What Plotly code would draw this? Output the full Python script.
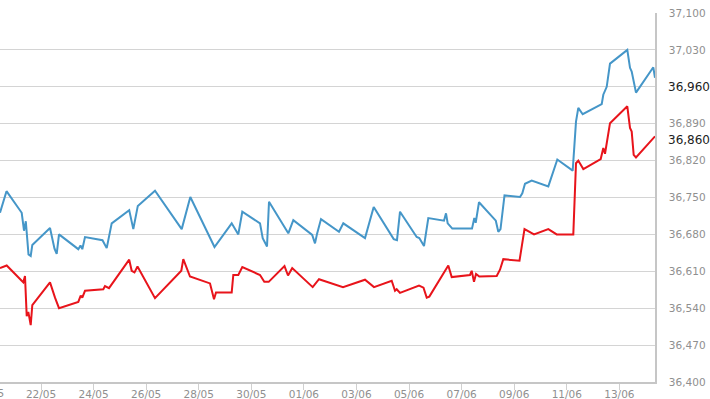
import plotly.graph_objects as go

YEAR = "2024-"

blue_times = [
    "05-20 10:34", "05-20 16:30", "05-21 06:23", "05-21 08:29", "05-21 10:07", "05-21 12:35",
    "05-21 14:36", "05-21 16:04", "05-22 08:13", "05-22 12:19", "05-22 14:20", "05-22 16:26",
    "05-23 10:03", "05-23 12:04", "05-23 13:42", "05-23 16:10", "05-24 08:08", "05-24 11:59",
    "05-24 16:32", "05-25 08:31", "05-25 12:16", "05-25 16:22", "05-26 08:04", "05-27 08:27",
    "05-27 16:18", "05-28 07:16", "05-28 14:23", "05-29 06:05", "05-29 12:07", "05-29 15:46",
    "05-30 07:56", "05-30 10:23", "05-30 14:19", "05-30 16:08", "05-31 09:46", "05-31 14:20",
    "06-01 07:35", "06-01 10:08", "06-01 11:58", "06-01 15:37", "06-02 08:02", "06-02 11:58",
    "06-03 07:47", "06-03 15:43", "06-04 09:59", "06-04 12:59", "06-04 15:44", "06-05 06:58",
    "06-05 09:21", "06-05 13:38", "06-05 17:34", "06-06 07:54", "06-06 09:43", "06-06 11:16",
    "06-06 15:28", "06-07 09:28", "06-07 11:34", "06-07 12:50", "06-07 15:51", "06-08 07:11",
    "06-08 09:28", "06-08 11:29", "06-08 15:08", "06-09 05:17", "06-09 07:23", "06-09 09:50",
    "06-09 15:58", "06-10 07:07", "06-10 15:20", "06-11 05:23", "06-11 06:35", "06-11 08:24",
    "06-11 10:30", "06-11 12:03", "06-11 14:31", "06-12 07:52", "06-12 09:19", "06-12 12:26",
    "06-12 15:26", "06-13 07:14", "06-13 09:42", "06-13 11:15", "06-13 15:10", "06-14 06:58",
    "06-14 08:31",
]
blue_values = [
    36721, 36762, 36721, 36687, 36705, 36642,
    36639, 36660, 36692, 36653, 36643, 36680,
    36652, 36659, 36652, 36675, 36669, 36654,
    36701, 36726, 36690, 36734, 36763, 36690,
    36751, 36688, 36656, 36701, 36680, 36723,
    36701, 36673, 36657, 36742, 36682, 36707,
    36679, 36663, 36681, 36709, 36685, 36701,
    36673, 36732, 36671, 36669, 36723, 36675,
    36673, 36658, 36711, 36706, 36720, 36701,
    36691, 36691, 36711, 36702, 36741, 36706,
    36685, 36690, 36754, 36751, 36758, 36776,
    36782, 36771, 36822, 36801, 36834, 36894,
    36920, 36916, 36908, 36927, 36945, 36960,
    37004, 37030, 36996, 36989, 36949, 36997,
    36977,
]

red_times = [
    "05-20 10:34", "05-20 16:41", "05-21 06:23", "05-21 07:50", "05-21 09:23", "05-21 10:57",
    "05-21 12:25", "05-21 14:36", "05-21 16:04", "05-22 08:13", "05-22 12:47", "05-22 16:26",
    "05-23 10:03", "05-23 12:14", "05-23 13:42", "05-23 16:10", "05-24 08:52", "05-24 10:26",
    "05-24 14:05", "05-25 08:31", "05-25 10:48", "05-25 13:21", "05-25 16:06", "05-26 08:04",
    "05-27 08:05", "05-27 09:54", "05-27 16:01", "05-28 10:17", "05-28 13:56", "05-28 15:45",
    "05-29 06:05", "05-29 07:33", "05-29 12:07", "05-29 15:46", "05-30 07:56", "05-30 11:51",
    "05-30 15:52", "05-31 06:17", "05-31 09:29", "05-31 13:19", "06-01 08:02", "06-01 13:47",
    "06-02 11:42", "06-03 07:47", "06-03 15:59", "06-04 08:09", "06-04 11:10", "06-04 12:43",
    "06-04 15:44", "06-05 09:05", "06-05 13:11", "06-05 16:07", "06-05 18:29", "06-06 09:27",
    "06-06 11:49", "06-06 14:56", "06-07 07:38", "06-07 09:11", "06-07 11:17", "06-07 13:07",
    "06-07 16:07", "06-08 08:00", "06-08 11:01", "06-08 14:02", "06-09 04:49", "06-09 09:23",
    "06-09 18:04", "06-10 07:07", "06-10 14:47", "06-11 05:56", "06-11 08:24", "06-11 10:30",
    "06-11 15:04", "06-12 06:57", "06-12 09:19", "06-12 10:53", "06-12 15:26", "06-13 07:14",
    "06-13 09:42", "06-13 11:15", "06-13 13:03", "06-13 15:10", "06-14 08:31",
]
red_values = [
    36616, 36621, 36592, 36589, 36601, 36525,
    36533, 36508, 36546, 36589, 36560, 36540,
    36552, 36564, 36560, 36573, 36576, 36582,
    36578, 36632, 36611, 36608, 36619, 36559,
    36611, 36633, 36600, 36587, 36557, 36570,
    36570, 36603, 36603, 36618, 36603, 36590,
    36590, 36620, 36602, 36616, 36580, 36595,
    36580, 36594, 36580, 36592, 36573, 36576,
    36569, 36583, 36579, 36560, 36562, 36611,
    36621, 36599, 36603, 36611, 36590, 36605,
    36600, 36601, 36613, 36633, 36630, 36690,
    36680, 36690, 36680, 36680, 36815, 36820,
    36804, 36823, 36844, 36833, 36891, 36923,
    36882, 36875, 36831, 36826, 36866,
]

y_ticks = [36400, 36470, 36540, 36610, 36680, 36750, 36820, 36890, 36960, 37030, 37100]
x_range = ["2024-05-20 10:34", "2024-06-14 08:31"]
first_tick = "2024-05-22"
cut_label = "20/05"
last_labels = [("36,960", 36960), ("36,860", 36860)]

BLUE = "#4596c8"
RED = "#e8141b"
GRID = "#d4d4d4"
LABEL = "#8f8f8f"
FONT = "DejaVu Sans"

highlighted = {v for _, v in last_labels}
tick_text = ["" if v in highlighted else f"{v:,}" for v in y_ticks]

fig = go.Figure()
fig.add_trace(go.Scatter(x=[YEAR + t for t in blue_times], y=blue_values, mode="lines",
                         line=dict(color=BLUE, width=2), hoverinfo="skip"))
fig.add_trace(go.Scatter(x=[YEAR + t for t in red_times], y=red_values, mode="lines",
                         line=dict(color=RED, width=2), hoverinfo="skip"))

fig.update_layout(
    width=710, height=399,
    margin=dict(l=0, r=55, t=13, b=17),
    plot_bgcolor="white", paper_bgcolor="white",
    showlegend=False,
    font=dict(family=FONT, size=10.5, color=LABEL),
)
fig.update_xaxes(
    type="date", range=x_range,
    tick0=first_tick, dtick=2 * 86400000, tickformat="%d/%m",
    showgrid=False, zeroline=False,
    showline=True, linecolor="#c6c6c6", linewidth=1.5,
    ticks="outside", ticklen=6, tickcolor="#d0d0d0", tickwidth=1,
    ticklabelstandoff=-4,
    tickfont=dict(family=FONT, size=10.5, color=LABEL),
)
fig.update_yaxes(
    side="right", range=[y_ticks[0], y_ticks[-1]],
    tickvals=y_ticks, ticktext=tick_text,
    showgrid=True, gridcolor=GRID, gridwidth=1, zeroline=False,
    showline=True, linecolor="#c6c6c6", linewidth=1.5,
    ticks="outside", ticklen=10, tickcolor="rgba(0,0,0,0)",
    tickfont=dict(family=FONT, size=10.5, color=LABEL),
)

for txt, val in last_labels:
    fig.add_annotation(xref="paper", yref="y", x=1, y=val, text=txt, showarrow=False,
                       xanchor="left", xshift=11,
                       font=dict(family=FONT, size=12, color="#222222"))

fig.add_annotation(xref="paper", yref="paper", x=-11.5 / 655, y=0, yshift=-11,
                   text=cut_label, showarrow=False, xanchor="center", yanchor="middle",
                   font=dict(family=FONT, size=10.5, color=LABEL))

fig.write_html("out.html", config={"displayModeBar": False},
               post_script="document.body.style.margin='0';document.body.style.overflow='hidden';")
